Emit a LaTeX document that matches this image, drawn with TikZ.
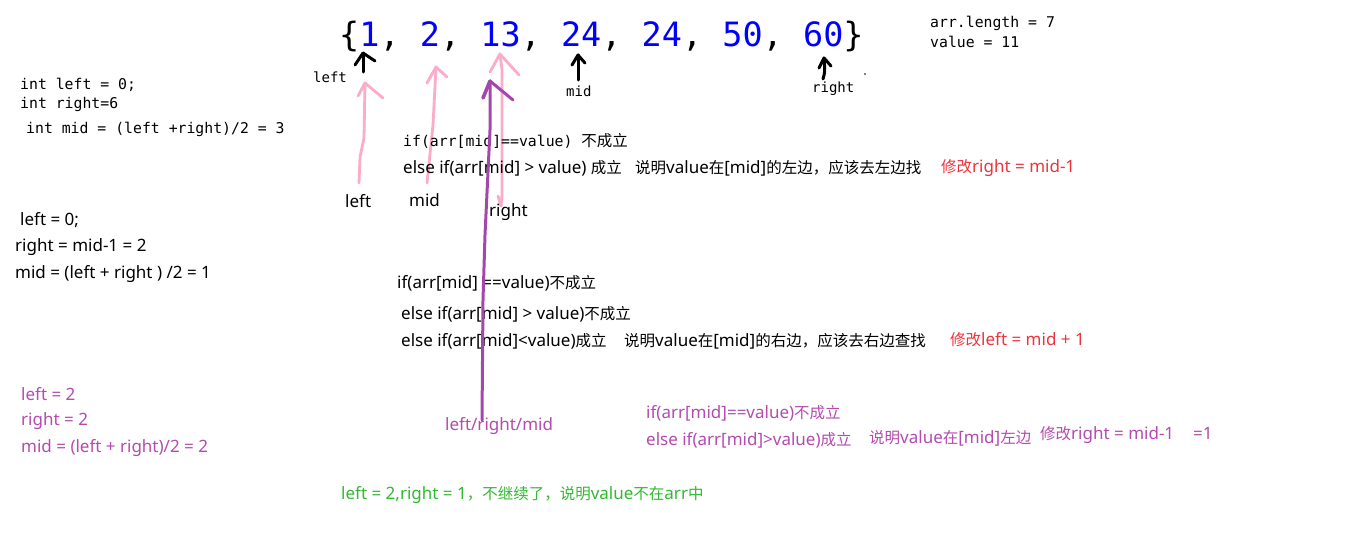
\documentclass[tikz,border=0pt]{standalone}
\usepackage{fontspec}
\setmainfont{Noto Sans}
\newfontfamily\cjk{Noto Sans CJK SC}
\newfontfamily\mono{DejaVu Sans Mono}
\newcommand\zh[1]{{\cjk\fontsize{15.5}{17}\selectfont #1}}
\definecolor{arrblue}{RGB}{0,0,255}
\definecolor{pinkc}{RGB}{250,172,200}
\definecolor{purpc}{RGB}{163,72,170}
\definecolor{purpt}{RGB}{180,75,175}
\definecolor{redc}{RGB}{240,50,60}
\definecolor{greenc}{RGB}{50,185,50}
\begin{document}
\begin{tikzpicture}[x=1pt,y=-1pt,
  monot/.style={anchor=west,inner sep=0pt,font=\mono\fontsize{14.8}{16}\selectfont},
  sanst/.style={anchor=west,inner sep=0pt,font=\fontsize{17}{19}\selectfont},
  blackarrow/.style={draw=black,line width=3pt,line cap=round,line join=round},
  pinkarrow/.style={draw=pinkc,line width=2.8pt,line cap=round,line join=round},
  purparrow/.style={draw=purpc,line width=3pt,line cap=round,line join=round}]
\useasboundingbox[fill=white] (0,0) rectangle (1352,544);

% array
\node[anchor=west,inner sep=0pt,font=\mono\fontsize{33.5}{36}\selectfont] (arr) at (339,37)
  {\{\textcolor{arrblue}{1}, \textcolor{arrblue}{2}, \textcolor{arrblue}{13}, \textcolor{arrblue}{24}, \textcolor{arrblue}{24}, \textcolor{arrblue}{50}, \textcolor{arrblue}{60}\}};
\node[monot] (len) at (930,23) {arr.length = 7};
\node[monot] (val) at (930,42) {value = 11};

% black pointers
\node[monot,font=\mono\fontsize{14}{16}\selectfont] (lbl1) at (313,77) {left};
\node[monot,font=\mono\fontsize{14}{16}\selectfont] (lbl2) at (566,91) {mid};
\node[monot,font=\mono\fontsize{14}{16}\selectfont] (lbl3) at (812,89) {right};
\coordinate (b1t) at (363,53); \coordinate (b1b) at (363,72);
\coordinate (b2t) at (578,55); \coordinate (b2b) at (578,80);
\coordinate (b3t) at (824,58); \coordinate (b3b) at (823,79);
\draw[blackarrow] (b1b) -- (b1t); \draw[blackarrow] (355,65) -- (b1t) -- (375,61);
\draw[blackarrow] (b2b) -- (b2t); \draw[blackarrow] (572,65) -- (b2t) -- (585,63);
\draw[blackarrow] (b3b) .. controls (825,72) .. (b3t); \draw[blackarrow] (819,68) -- (b3t) -- (831,66);
\fill (865,74) circle (0.8);

% initial
\node[monot] (i1) at (20,85) {int left = 0;};
\node[monot] (i2) at (20,104) {int right=6};
\node[monot] (i3) at (26,129) {int mid = (left +right)/2 = 3};

% pink pointers
\node[sanst] (pl) at (345,201) {left};
\node[sanst] (pm) at (409,200) {mid};
\node[sanst] (pr) at (489,212) {right};
\coordinate (p1t) at (365,83); \coordinate (p1b) at (359,183);
\coordinate (p2t) at (436,67); \coordinate (p2b) at (427,183);
\coordinate (p3t) at (500,54); \coordinate (p3b) at (501,206);
\draw[pinkarrow] (p1b) -- (360,157) -- (364,138) -- (p1t);
\draw[pinkarrow] (358,96) -- (p1t) -- (383,98);
\draw[pinkarrow] (p2b) -- (433,125) -- (p2t);
\draw[pinkarrow] (427,83) -- (p2t) -- (447,77);
\draw[pinkarrow] (p3b) -- (502,195) -- (502,70) -- (p3t);
\draw[pinkarrow] (490,72) -- (p3t) -- (519,75);
\draw[pinkarrow] (498,196) -- (501,206);

% block 1
\node[anchor=west,inner sep=0pt] (c1) at (403,141) {\mono\fontsize{14.8}{16}\selectfont if(arr[mid]==value)\ \zh{不成立}};
\node[sanst] (c2) at (403,168) {else if(arr[mid] > value) \zh{成立}};
\node[sanst] (c3) at (635,168) {\zh{说明}value\zh{在}[mid]\zh{的左边，应该去左边找}};
\node[sanst,text=redc] (c4) at (941,168) {\zh{修改}right = mid-1};

% left block 2
\node[sanst] (l1) at (20,220) {left = 0;};
\node[sanst] (l2) at (15,247) {right = mid-1 = 2};
\node[sanst] (l3) at (15,274) {mid = (left + right ) /2 = 1};

% block 2
\node[sanst] (d1) at (397,283) {if(arr[mid] ==value)\zh{不成立}};
\node[sanst] (d2) at (401,314) {else if(arr[mid] > value)\zh{不成立}};
\node[sanst] (d3) at (401,341) {else if(arr[mid]<value)\zh{成立}};
\node[sanst] (d4) at (624,341) {\zh{说明}value\zh{在}[mid]\zh{的右边，应该去右边查找}};
\node[sanst,text=redc] (d5) at (950,340) {\zh{修改}left = mid + 1};

% left block 3
\node[sanst,text=purpt] (m1) at (21,394) {left = 2};
\node[sanst,text=purpt] (m2) at (21,421) {right = 2};
\node[sanst,text=purpt] (m3) at (21,448) {mid = (left + right)/2 = 2};

% purple pointer
\node[sanst,text=purpt] (lrm) at (445,426) {left/right/mid};
\coordinate (q1t) at (490,81); \coordinate (q1b) at (482,420);
\draw[purparrow] (q1b) -- (483,300) -- (485,235) -- (490,130) -- (q1t);
\draw[purparrow,line width=3.6pt] (483,98) -- (q1t);
\draw[purparrow] (q1t) -- (513,100);

% block 3
\node[sanst,text=purpt] (e1) at (646,413) {if(arr[mid]==value)\zh{不成立}};
\node[sanst,text=purpt] (e2) at (646,440) {else if(arr[mid]>value)\zh{成立}};
\node[sanst,text=purpt] (e3) at (869,438) {\zh{说明}value\zh{在}[mid]\zh{左边}};
\node[sanst,text=purpt] (e4) at (1040,435) {\zh{修改}right = mid-1};
\node[sanst,text=purpt] (e5) at (1193,433) {=1};

% conclusion
\node[sanst,text=greenc] (g1) at (341,495) {left = 2,right = 1\zh{，不继续了，说明}value\zh{不在}arr\zh{中}};
\end{tikzpicture}
\end{document}
